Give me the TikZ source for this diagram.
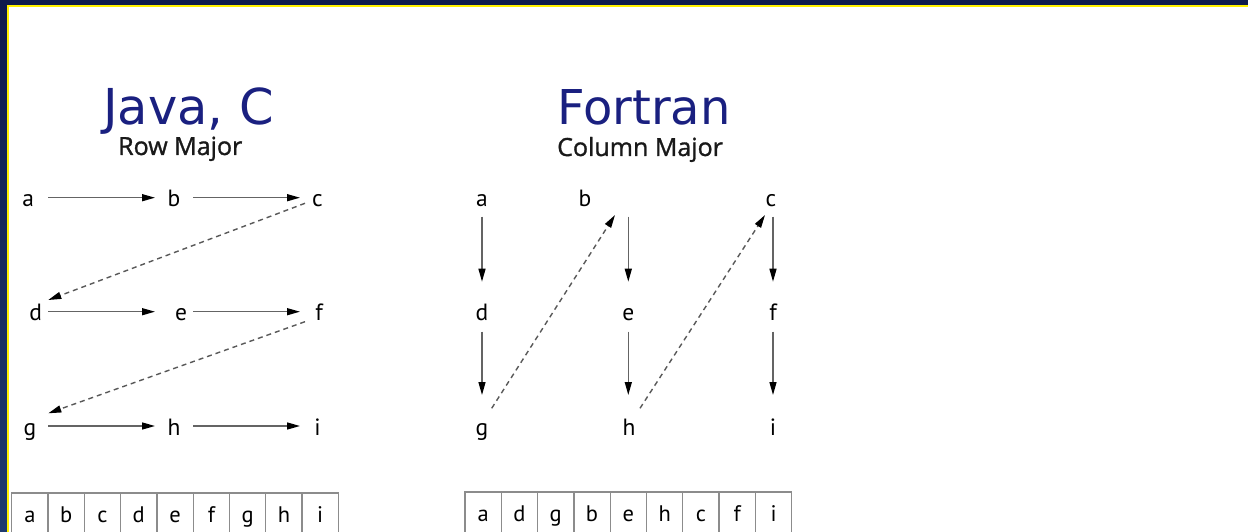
\documentclass[tikz,border=0pt]{standalone}
\usepackage{fontspec}
\setmainfont{PT Sans}
\newfontfamily\titlefont{DejaVu Sans}
\newfontfamily\subfont[FakeBold=1.2]{Open Sans}
\usetikzlibrary{arrows.meta}
\definecolor{navy}{RGB}{14,26,76}
\definecolor{navyb}{RGB}{30,58,110}
\definecolor{ttl}{RGB}{26,32,128}
\definecolor{lin}{RGB}{100,100,100}
\definecolor{cellc}{RGB}{140,140,140}
\definecolor{yel}{RGB}{255,240,0}
\begin{document}
\begin{tikzpicture}[x=1pt,y=-1pt,
  lt/.style={inner sep=0pt,text height=18pt,text depth=0pt,anchor=base,font=\fontsize{23.5}{23.5}\selectfont,text=black},
  arr/.style={draw=lin,line width=1.4pt,-{Triangle[length=13pt,width=7pt,color=black]}},
  darr/.style={arr,dash pattern=on 5pt off 4pt,draw=black!65},
  cell/.style={draw=cellc,line width=1.3pt,outer sep=0pt,minimum width=36.3pt,minimum height=50pt,anchor=north west,inner sep=0pt,text height=12pt,text depth=4pt,font=\fontsize{22.5}{22.5}\selectfont},
  ttlst/.style={anchor=base west,inner sep=0pt,font=\titlefont\fontsize{48}{48}\selectfont,text=ttl},
  sub/.style={anchor=base west,inner sep=0pt,font=\subfont\fontsize{25}{25}\selectfont,text=black!90}]
\useasboundingbox (0,0) rectangle (1248,532);
\clip (0,0) rectangle (1248,532);
% frame
\fill[navy] (0,0) rectangle (1248,532);
\shade[top color=navy,bottom color=navyb] (0,0) rectangle (7.3,532);
\fill[yel] (7.3,4.7) rectangle (1248,532);
\fill[white] (9,6.7) rectangle (1248,532);

% titles
\node[ttlst,font=\titlefont\fontsize{49.5}{49.5}\selectfont] (t1) at (103,125) {Java, C};
\node[sub] (s1) at (118,155) {Row Major};
\node[ttlst] (t2) at (557,125) {Fortran};
\node[sub] (s2) at (557,156) {Column Major};

% row major
\node[lt] (a1) at (28.3,206.7) {a};
\node[lt] (b1) at (174,206.7) {b};
\node[lt] (c1) at (317.5,206.7) {c};
\node[lt] (d1) at (35.8,320.7) {d};
\node[lt] (e1) at (181,320.7) {e};
\node[lt] (f1) at (319,320.7) {f};
\node[lt] (g1) at (30,435) {g};
\node[lt] (h1) at (174,435) {h};
\node[lt] (i1) at (317.5,435) {i};

\draw[arr,shorten <=20pt,shorten >=19pt] (a1.center) -- (b1.center);
\draw[arr,shorten <=19.3pt,shorten >=17.5pt] (b1.center) -- (c1.center);
\draw[arr,shorten <=12.5pt,shorten >=26pt] (d1.center) -- (e1.center);
\draw[arr,shorten <=12.3pt,shorten >=19pt] (e1.center) -- (f1.center);
\draw[arr,shorten <=18.3pt,shorten >=19pt] (g1.center) -- (h1.center);
\draw[arr,shorten <=19.3pt,shorten >=17.5pt] (h1.center) -- (i1.center);
\draw[darr] ([shift={(-12.5,5.6)}]c1.center) -- ([shift={(12.5,-11.7)}]d1.center);
\draw[darr] ([shift={(-14,10)}]f1.center) -- ([shift={(18.3,-12.7)}]g1.center);

% column major
\node[lt] (a2) at (482,206.7) {a};
\node[lt] (b2) at (585,206.7) {b};
\node[lt] (c2) at (771,206.7) {c};
\node[lt] (d2) at (482,320.7) {d};
\node[lt] (e2) at (628.3,320.7) {e};
\node[lt] (f2) at (773,320.7) {f};
\node[lt] (g2) at (482,435) {g};
\node[lt] (h2) at (629,435) {h};
\node[lt] (i2) at (773,435) {i};

\draw[arr,shorten <=19pt,shorten >=30pt] (a2.center) -- (d2.center);
\draw[arr,shorten <=20pt,shorten >=31pt] (d2.center) -- (g2.center);
\draw[arr,shorten <=19pt,shorten >=30pt] (e2.center |- b2.center) -- (e2.center);
\draw[arr,shorten <=20pt,shorten >=31pt] (e2.center) -- (e2.center |- h2.center);
\draw[arr,shorten <=19pt,shorten >=30pt] (f2.center |- c2.center) -- (f2.center);
\draw[arr,shorten <=20pt,shorten >=31pt] (f2.center) -- (i2.center);
\draw[darr] ([shift={(9.7,-17.7)}]g2.center) -- ([shift={(30,17.3)}]b2.center);
\draw[darr] ([shift={(11,-17.7)}]h2.center) -- ([shift={(-6,17.3)}]c2.center);

% memory layouts
\node[cell] (r1) at (11.7,493) {a};
\node[cell] (r2) at (r1.north east) {b};
\node[cell] (r3) at (r2.north east) {c};
\node[cell] (r4) at (r3.north east) {d};
\node[cell] (r5) at (r4.north east) {e};
\node[cell] (r6) at (r5.north east) {f};
\node[cell] (r7) at (r6.north east) {g};
\node[cell] (r8) at (r7.north east) {h};
\node[cell] (r9) at (r8.north east) {i};

\node[cell] (k1) at (465,492) {a};
\node[cell] (k2) at (k1.north east) {d};
\node[cell] (k3) at (k2.north east) {g};
\node[cell] (k4) at (k3.north east) {b};
\node[cell] (k5) at (k4.north east) {e};
\node[cell] (k6) at (k5.north east) {h};
\node[cell] (k7) at (k6.north east) {c};
\node[cell] (k8) at (k7.north east) {f};
\node[cell] (k9) at (k8.north east) {i};
\end{tikzpicture}
\end{document}
